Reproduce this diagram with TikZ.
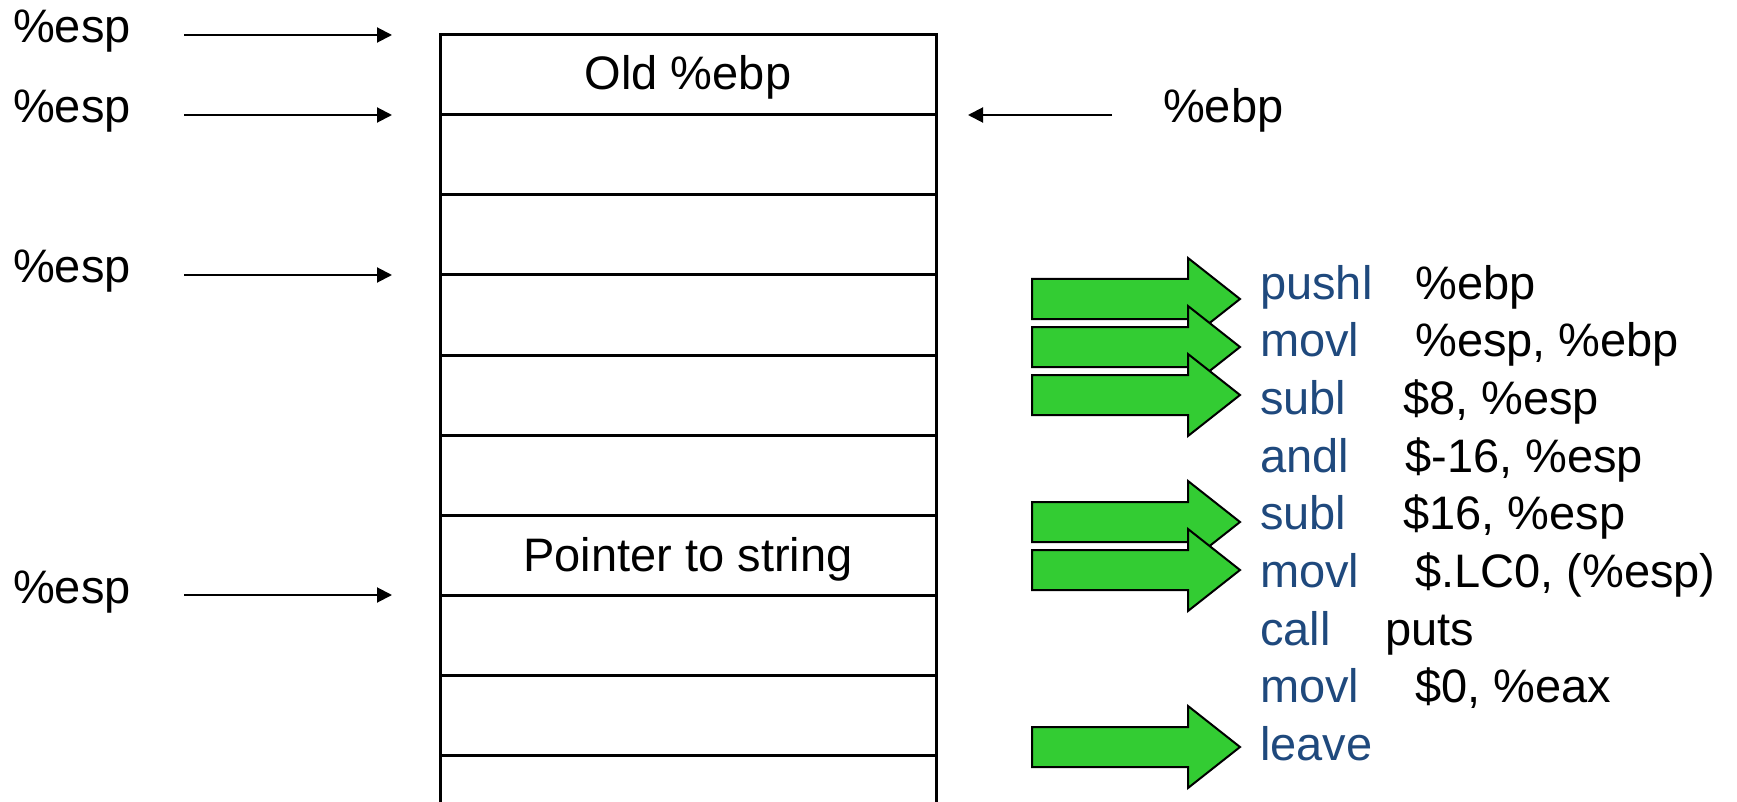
\documentclass[tikz,border=0pt]{standalone}
\usepackage{fontspec}
\setmainfont{Liberation Sans}
\usetikzlibrary{arrows.meta}
\definecolor{grn}{HTML}{33CC33}
\definecolor{asmblue}{HTML}{1F497D}
\begin{document}
\begin{tikzpicture}[x=1pt,y=-1pt,
  txt/.style={anchor=base west, inner sep=0pt, font=\fontsize{47}{56}\selectfont},
  ctxt/.style={txt, anchor=base},
  mnem/.style={txt, text=asmblue},
  cell/.style={minimum width=496pt, minimum height=80pt, inner sep=0pt, outer sep=0pt, anchor=north west},
  rule/.style={line width=3pt},
  ptr/.style={line width=2pt, -{Triangle[length=15pt,width=15pt]}},
  garrow/.pic={\draw[fill=grn, line width=2pt, line join=miter]
     (-208,-20) -- (-52,-20) -- (-52,-41) -- (0,0) -- (-52,41) -- (-52,20) -- (-208,20) -- cycle;}
]
\useasboundingbox (0,0) rectangle (1737,802);

% stack cells
\foreach \k in {0,...,8} {
  \node[cell] (r\k) at (440,{35+80*\k}) {};
}
\coordinate (bl) at (440,806);
\coordinate (br) at (936,806);
\draw[rule, line join=miter] (bl) -- (r0.north west) -- (r0.north east) -- (br);
\foreach \k in {0,...,8} {
  \draw[rule] (r\k.south west) -- (r\k.south east);
}

\node[ctxt] (old) at (688,90) {Old \%ebp};
\node[ctxt] (pts) at (688,571) {Pointer to string};

% %esp pointers
\node[txt] (esp1) at (13,43) {\%esp};
\node[txt] (esp2) at (13,123) {\%esp};
\node[txt] (esp3) at (13,283) {\%esp};
\node[txt] (esp4) at (13,603) {\%esp};
\coordinate (s1) at (184,35);  \coordinate (t1) at (392,35);
\coordinate (s2) at (184,115); \coordinate (t2) at (392,115);
\coordinate (s3) at (184,275); \coordinate (t3) at (392,275);
\coordinate (s4) at (184,595); \coordinate (t4) at (392,595);
\draw[ptr] (s1) -- (t1);
\draw[ptr] (s2) -- (t2);
\draw[ptr] (s3) -- (t3);
\draw[ptr] (s4) -- (t4);

% %ebp pointer
\node[txt] (ebp) at (1163,123) {\%ebp};
\coordinate (es) at (1112,115); \coordinate (et) at (968,115);
\draw[ptr] (es) -- (et);

% green arrows
\pic at (1240,299) {garrow};
\pic at (1240,347) {garrow};
\pic at (1240,395) {garrow};
\pic at (1240,522) {garrow};
\pic at (1240,570) {garrow};
\pic at (1240,747) {garrow};

% code
\node[mnem] (m0) at (1260,299.0) {pushl}; \node[txt] (o0) at (1415,299.0) {\%ebp};
\node[mnem] (m1) at (1260,356.7) {movl};  \node[txt] (o1) at (1415,356.7) {\%esp, \%ebp};
\node[mnem] (m2) at (1260,414.4) {subl};  \node[txt] (o2) at (1403,414.4) {\$8, \%esp};
\node[mnem] (m3) at (1260,472.1) {andl};  \node[txt] (o3) at (1405,472.1) {\$-16, \%esp};
\node[mnem] (m4) at (1260,529.8) {subl};  \node[txt] (o4) at (1403,529.8) {\$16, \%esp};
\node[mnem] (m5) at (1260,587.5) {movl};  \node[txt] (o5) at (1415,587.5) {\$.LC0, (\%esp)};
\node[mnem] (m6) at (1260,645.2) {call};  \node[txt] (o6) at (1385,645.2) {puts};
\node[mnem] (m7) at (1260,702.9) {movl};  \node[txt] (o7) at (1415,702.9) {\$0, \%eax};
\node[mnem] (m8) at (1260,760.6) {leave};
\end{tikzpicture}
\end{document}
